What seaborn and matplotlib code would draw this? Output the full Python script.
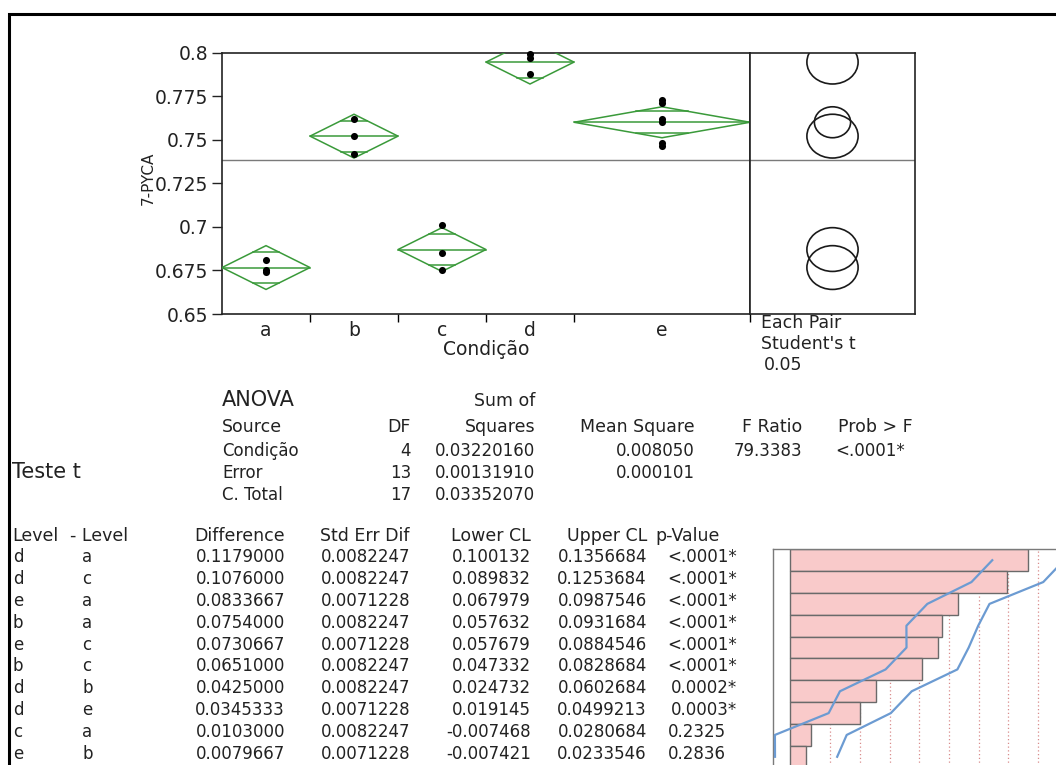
import numpy as np
import pandas as pd
import seaborn as sns
import matplotlib.pyplot as plt
from matplotlib.patches import Polygon, Ellipse, Rectangle
from matplotlib.ticker import FuncFormatter

# observações por condição
grupos = ['a', 'b', 'c', 'd', 'e']
val_a = [0.681, 0.675, 0.674]
val_b = [0.762, 0.7523, 0.742]
val_c = [0.701, 0.685, 0.675]
val_d = [0.799, 0.797, 0.7878]
val_e = [0.773, 0.771, 0.762, 0.760, 0.748, 0.7464]

# tabela ANOVA
anova_fonte = ['Condição', 'Error', 'C. Total']
anova_gl = ['4', '13', '17']
anova_sq = ['0.03220160', '0.00131910', '0.03352070']
anova_qm = ['0.008050', '0.000101', '']
anova_f = ['79.3383', '', '']
anova_p = ['<.0001*', '', '']
sq_erro = 0.0013191
gl_erro = 13
t_crit = 2.1604  # t(0.975, 13)

# teste t - pares
nivel1 = ['d', 'd', 'e', 'b', 'e', 'b', 'd', 'd', 'c', 'e']
nivel2 = ['a', 'c', 'a', 'a', 'c', 'c', 'b', 'e', 'a', 'b']
diferenca = [0.1179000, 0.1076000, 0.0833667, 0.0754000, 0.0730667,
             0.0651000, 0.0425000, 0.0345333, 0.0103000, 0.0079667]
erro_dif = [0.0082247, 0.0082247, 0.0071228, 0.0082247, 0.0071228,
            0.0082247, 0.0082247, 0.0071228, 0.0082247, 0.0071228]
lim_inf = [0.100132, 0.089832, 0.067979, 0.057632, 0.057679,
           0.047332, 0.024732, 0.019145, -0.007468, -0.007421]
lim_sup = [0.1356684, 0.1253684, 0.0987546, 0.0931684, 0.0884546,
           0.0828684, 0.0602684, 0.0499213, 0.0280684, 0.0233546]
p_valor = ['<.0001*', '<.0001*', '<.0001*', '<.0001*', '<.0001*',
           '<.0001*', '0.0002*', '0.0003*', '0.2325', '0.2836']
ref_linhas = [0.0198, 0.0347, 0.0495, 0.0640, 0.0787, 0.0936, 0.1081, 0.1229]

W, H = 1056, 765
fig = plt.figure(figsize=(W / 100, H / 100), dpi=100)
fig.patch.set_facecolor('white')


def caixa(l, t, r, b):
    return [l / W, 1 - b / H, (r - l) / W, (b - t) / H]


def txt(x, y, s, ha='left', size=12, **kw):
    fig.text(x / W, 1 - y / H, s, ha=ha, va='center', fontsize=size,
             color='#222222', **kw)


# dados em formato longo
valores = [val_a, val_b, val_c, val_d, val_e]
n = np.array([len(v) for v in valores])
bordas = np.concatenate([[0], np.cumsum(n)])
centros = (bordas[:-1] + bordas[1:]) / 2
df = pd.DataFrame({'grupo': np.repeat(grupos, n), 'valor': np.concatenate(valores)})
df['x'] = df['grupo'].map(dict(zip(grupos, centros)))
medias = df.groupby('grupo')['valor'].mean().reindex(grupos).values
media_geral = df['valor'].mean()
qm_erro = sq_erro / gl_erro
meia_ic = t_crit * np.sqrt(qm_erro / n)

verde = '#3a9a3a'
ymin, ymax = 0.65, 0.8

# ---- painel principal (diamantes) ----
ax = fig.add_axes(caixa(222, 52.7, 750, 314))
ax.set_xlim(bordas[0], bordas[-1])
ax.set_ylim(ymin, ymax)
for i in range(len(grupos)):
    l, r, c, m, h = bordas[i], bordas[i + 1], centros[i], medias[i], meia_ic[i]
    ax.add_patch(Polygon([(l, m), (c, m + h), (r, m), (c, m - h)], closed=True,
                         fill=False, ec=verde, lw=1.1, zorder=3))
    ax.plot([l, r], [m, m], color=verde, lw=1.1, zorder=3)
    hw = (r - l) / 2 * (1 - 1 / np.sqrt(2))
    for s in (1, -1):
        yy = m + s * h / np.sqrt(2)
        ax.plot([c - hw, c + hw], [yy, yy], color=verde, lw=1.1, zorder=3)
ax.axhline(media_geral, color='#7a7a7a', lw=1, zorder=2)
sns.scatterplot(data=df, x='x', y='valor', color='black', s=26, linewidth=0,
                ax=ax, legend=False, zorder=5, clip_on=False)
ax.set_xlabel('')
ax.set_ylabel('')
ax.set_yticks([0.65, 0.675, 0.7, 0.725, 0.75, 0.775, 0.8])
ax.yaxis.set_major_formatter(FuncFormatter(lambda v, p: f'{v:g}'))
ax.tick_params(axis='y', length=7, width=1, labelsize=13.5, pad=3, colors='#222222')
ax.set_xticks(bordas[1:])
ax.set_xticklabels([])
ax.set_xticks(centros, minor=True)
ax.set_xticklabels(grupos, minor=True)
ax.tick_params(axis='x', which='major', length=6, width=1, direction='out')
ax.tick_params(axis='x', which='minor', length=0, labelsize=13.5, pad=5, colors='#222222')
for sp in ax.spines.values():
    sp.set_color('#222222')
    sp.set_linewidth(1.2)

# ---- painel de círculos de comparação ----
axc = fig.add_axes(caixa(750, 52.7, 915, 314))
axc.set_xlim(0, 165)
axc.set_ylim(ymin, ymax)
px_por_y = (314 - 52.7) / (ymax - ymin)
for m, h in zip(medias, meia_ic):
    axc.add_patch(Ellipse((82.5, m), width=2 * h * px_por_y * 1.17, height=2 * h,
                          fill=False, ec='#1a1a1a', lw=1.2, clip_on=True))
axc.axhline(media_geral, color='#7a7a7a', lw=1)
axc.set_xticks([])
axc.set_yticks([])
for sp in axc.spines.values():
    sp.set_color('#222222')
    sp.set_linewidth(1.2)

txt(148, 178, '7-PYCA', ha='center', size=11, rotation=90)
txt(486, 350, 'Condição', ha='center', size=13.5)
txt(761, 323, 'Each Pair', size=12.5)
txt(761, 344, "Student's t", size=12.5)
txt(764, 365, '0.05', size=12.5)

# ---- ANOVA ----
txt(222, 400, 'ANOVA', size=15)
txt(535, 401, 'Sum of', ha='right', size=12.5)
lin_cab = 427
txt(222, lin_cab, 'Source', size=12.5)
txt(411, lin_cab, 'DF', ha='right', size=12.5)
txt(535, lin_cab, 'Squares', ha='right', size=12.5)
txt(695, lin_cab, 'Mean Square', ha='right', size=12.5)
txt(802, lin_cab, 'F Ratio', ha='right', size=12.5)
txt(913, lin_cab, 'Prob > F', ha='right', size=12.5)
for k in range(3):
    y = 451 + 22 * k
    txt(222, y, anova_fonte[k])
    txt(411, y, anova_gl[k], ha='right')
    txt(535, y, anova_sq[k], ha='right')
    txt(695, y, anova_qm[k], ha='right')
    txt(802, y, anova_f[k], ha='right')
    txt(905, y, anova_p[k], ha='right')

# ---- Teste t ----
txt(12, 472, 'Teste t', size=15)
txt(12, 536, 'Level', size=12.5)
txt(70, 536, '- Level', size=12.5)
txt(285, 536, 'Difference', ha='right', size=12.5)
txt(410, 536, 'Std Err Dif', ha='right', size=12.5)
txt(531, 536, 'Lower CL', ha='right', size=12.5)
txt(647, 536, 'Upper CL', ha='right', size=12.5)
txt(655, 536, 'p-Value', size=12.5)
for k in range(len(diferenca)):
    y = 557.2 + 21.84 * k
    txt(13, y, nivel1[k])
    txt(82, y, nivel2[k])
    txt(285, y, f'{diferenca[k]:.7f}', ha='right')
    txt(410, y, f'{erro_dif[k]:.7f}', ha='right')
    txt(531, y, f'{lim_inf[k]:.6f}', ha='right')
    txt(647, y, f'{lim_sup[k]:.7f}', ha='right')
    txt(737 if p_valor[k].endswith('*') else 726, y, p_valor[k], ha='right')

# ---- gráfico de diferenças ordenadas ----
escala = 2020.0
axm = fig.add_axes(caixa(773, 549.3, 1100, 775))
linhas = np.arange(len(diferenca))
for v in ref_linhas:
    axm.axvline(v, color='#d98c8c', ls=(0, (1, 2)), lw=0.9, zorder=0.5)
sns.barplot(x=diferenca, y=linhas, orient='h', color='#f9caca', saturation=1,
            edgecolor='#6a6a6a', linewidth=1, width=1.0, ax=axm, zorder=1)
axm.plot(lim_inf, linhas, color='#6c9bd2', lw=1.6, zorder=3)
axm.plot(lim_sup, linhas, color='#6c9bd2', lw=1.6, zorder=3)
axm.set_xlim(-17 / escala, (1100 - 790) / escala)
axm.set_ylim(-0.5 + (775 - 549.3) / 21.84, -0.5)
axm.set_xticks([])
axm.set_yticks([])
axm.set_xlabel('')
axm.set_ylabel('')
for nome, sp in axm.spines.items():
    sp.set_color('#7a7a7a')
    sp.set_linewidth(1)
    if nome in ('right', 'bottom'):
        sp.set_visible(False)

# moldura externa
fig.add_artist(Rectangle((9 / W, -0.1), 1.2, 1 - 14 / H + 0.1, transform=fig.transFigure,
                         fill=False, ec='black', lw=2.2))

fig.savefig('out.png', dpi=100)
